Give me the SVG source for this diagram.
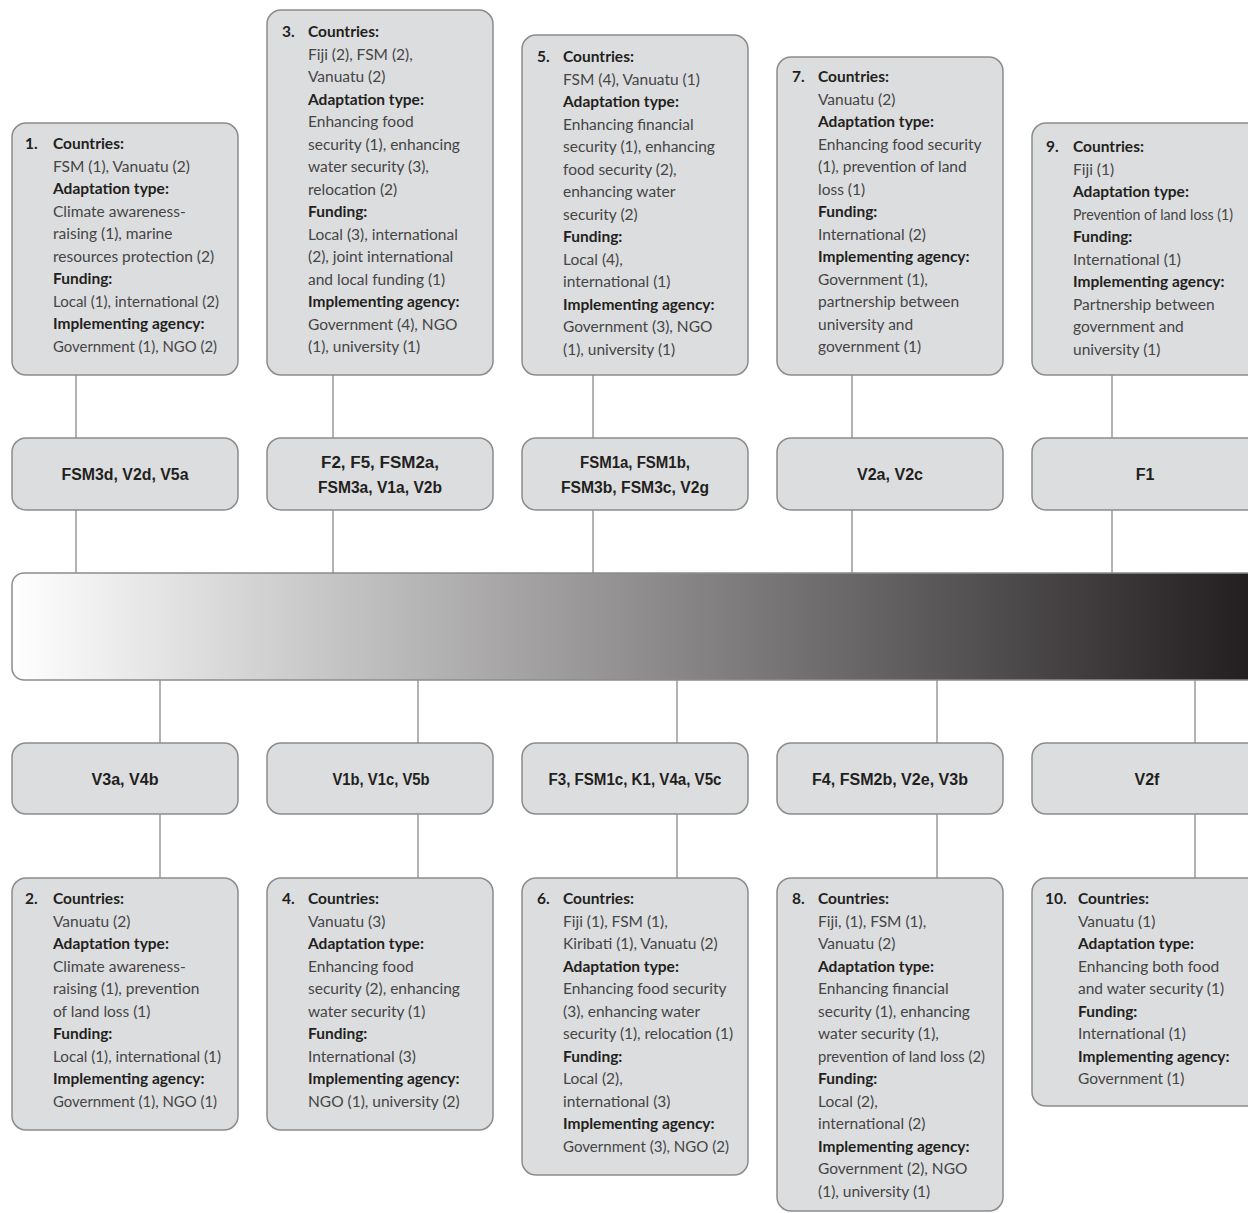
<svg xmlns="http://www.w3.org/2000/svg" width="1248" height="1213" viewBox="0 0 1248 1213">
<style>
.box{fill:#dcdddf;stroke:#8c8c8c;stroke-width:1.5}
.t{font-family:Lato,"Liberation Sans",sans-serif;font-size:15.5px;fill:#454545}
.b{font-weight:bold;fill:#231f20}
.n{font-family:Lato,"Liberation Sans",sans-serif;font-size:15.5px;font-weight:bold;fill:#231f20}
.lab{font-family:"Liberation Sans","DejaVu Sans",sans-serif;font-size:16px;font-weight:bold;fill:#231f20;text-anchor:middle}
.ln{stroke:#9a9a9a;stroke-width:1.5;fill:none}
</style>
<defs>
<linearGradient id="grad" gradientUnits="userSpaceOnUse" x1="12" y1="0" x2="1248" y2="0">
<stop offset="0" stop-color="#ffffff"/>
<stop offset="1" stop-color="#231f20"/>
</linearGradient>
</defs>
<rect width="1248" height="1213" fill="#ffffff"/>
<g id="connectors">
<path class="ln" d="M76 375V438M76 510V573M333 375V438M333 510V573M593 375V438M593 510V573M852 375V438M852 510V573M1112 375V438M1112 510V573"/>
<path class="ln" d="M160 680V743M160 814V878M418 680V743M418 814V878M677 680V743M677 814V878M937 680V743M937 814V878M1195 680V743M1195 814V878"/>
</g>
<g id="scale"><rect x="12" y="573" width="1260" height="107" rx="12" fill="url(#grad)" stroke="#8c8c8c" stroke-width="1.5"/></g>
<g id="box1"><rect class="box" x="12" y="123" width="226" height="252" rx="14"/>
<text class="n" x="25" y="149">1.</text>
<text class="t" x="53" y="149"><tspan class="b">Countries:</tspan><tspan x="53" dy="22.5">FSM (1), Vanuatu (2)</tspan><tspan x="53" dy="22.5" class="b">Adaptation type:</tspan><tspan x="53" dy="22.5">Climate awareness-</tspan><tspan x="53" dy="22.5">raising (1), marine</tspan><tspan x="53" dy="22.5">resources protection (2)</tspan><tspan x="53" dy="22.5" class="b">Funding:</tspan><tspan x="53" dy="22.5" textLength="166" lengthAdjust="spacingAndGlyphs">Local (1), international (2)</tspan><tspan x="53" dy="22.5" class="b">Implementing agency:</tspan><tspan x="53" dy="22.5" textLength="164" lengthAdjust="spacingAndGlyphs">Government (1), NGO (2)</tspan></text></g>
<g id="box3"><rect class="box" x="267" y="10" width="226" height="365" rx="14"/>
<text class="n" x="282" y="37">3.</text>
<text class="t" x="308" y="37"><tspan class="b">Countries:</tspan><tspan x="308" dy="22.5">Fiji (2), FSM (2),</tspan><tspan x="308" dy="22.5">Vanuatu (2)</tspan><tspan x="308" dy="22.5" class="b">Adaptation type:</tspan><tspan x="308" dy="22.5">Enhancing food</tspan><tspan x="308" dy="22.5">security (1), enhancing</tspan><tspan x="308" dy="22.5">water security (3),</tspan><tspan x="308" dy="22.5">relocation (2)</tspan><tspan x="308" dy="22.5" class="b">Funding:</tspan><tspan x="308" dy="22.5">Local (3), international</tspan><tspan x="308" dy="22.5">(2), joint international</tspan><tspan x="308" dy="22.5">and local funding (1)</tspan><tspan x="308" dy="22.5" class="b">Implementing agency:</tspan><tspan x="308" dy="22.5">Government (4), NGO</tspan><tspan x="308" dy="22.5">(1), university (1)</tspan></text></g>
<g id="box5"><rect class="box" x="522" y="35" width="226" height="340" rx="14"/>
<text class="n" x="537" y="62">5.</text>
<text class="t" x="563" y="62"><tspan class="b">Countries:</tspan><tspan x="563" dy="22.5">FSM (4), Vanuatu (1)</tspan><tspan x="563" dy="22.5" class="b">Adaptation type:</tspan><tspan x="563" dy="22.5">Enhancing financial</tspan><tspan x="563" dy="22.5">security (1), enhancing</tspan><tspan x="563" dy="22.5">food security (2),</tspan><tspan x="563" dy="22.5">enhancing water</tspan><tspan x="563" dy="22.5">security (2)</tspan><tspan x="563" dy="22.5" class="b">Funding:</tspan><tspan x="563" dy="22.5">Local (4),</tspan><tspan x="563" dy="22.5">international (1)</tspan><tspan x="563" dy="22.5" class="b">Implementing agency:</tspan><tspan x="563" dy="22.5">Government (3), NGO</tspan><tspan x="563" dy="22.5">(1), university (1)</tspan></text></g>
<g id="box7"><rect class="box" x="777" y="57" width="226" height="318" rx="14"/>
<text class="n" x="792" y="82">7.</text>
<text class="t" x="818" y="82"><tspan class="b">Countries:</tspan><tspan x="818" dy="22.5">Vanuatu (2)</tspan><tspan x="818" dy="22.5" class="b">Adaptation type:</tspan><tspan x="818" dy="22.5">Enhancing food security</tspan><tspan x="818" dy="22.5">(1), prevention of land</tspan><tspan x="818" dy="22.5">loss (1)</tspan><tspan x="818" dy="22.5" class="b">Funding:</tspan><tspan x="818" dy="22.5">International (2)</tspan><tspan x="818" dy="22.5" class="b">Implementing agency:</tspan><tspan x="818" dy="22.5">Government (1),</tspan><tspan x="818" dy="22.5">partnership between</tspan><tspan x="818" dy="22.5">university and</tspan><tspan x="818" dy="22.5">government (1)</tspan></text></g>
<g id="box9"><rect class="box" x="1032" y="123" width="240" height="252" rx="14"/>
<text class="n" x="1046" y="152">9.</text>
<text class="t" x="1073" y="152"><tspan class="b">Countries:</tspan><tspan x="1073" dy="22.5">Fiji (1)</tspan><tspan x="1073" dy="22.5" class="b">Adaptation type:</tspan><tspan x="1073" dy="22.5" textLength="160" lengthAdjust="spacingAndGlyphs">Prevention of land loss (1)</tspan><tspan x="1073" dy="22.5" class="b">Funding:</tspan><tspan x="1073" dy="22.5">International (1)</tspan><tspan x="1073" dy="22.5" class="b">Implementing agency:</tspan><tspan x="1073" dy="22.5">Partnership between</tspan><tspan x="1073" dy="22.5">government and</tspan><tspan x="1073" dy="22.5">university (1)</tspan></text></g>
<g id="lab-top1"><rect class="box" x="12" y="438" width="226" height="72" rx="14"/><text class="lab" x="125" y="480" textLength="127" lengthAdjust="spacingAndGlyphs">FSM3d, V2d, V5a</text></g>
<g id="lab-top2"><rect class="box" x="267" y="438" width="226" height="72" rx="14"/><text class="lab" x="380" y="468" textLength="118" lengthAdjust="spacingAndGlyphs">F2, F5, FSM2a,</text><text class="lab" x="380" y="493" textLength="124" lengthAdjust="spacingAndGlyphs">FSM3a, V1a, V2b</text></g>
<g id="lab-top3"><rect class="box" x="522" y="438" width="226" height="72" rx="14"/><text class="lab" x="635" y="468" textLength="110" lengthAdjust="spacingAndGlyphs">FSM1a, FSM1b,</text><text class="lab" x="635" y="493" textLength="148" lengthAdjust="spacingAndGlyphs">FSM3b, FSM3c, V2g</text></g>
<g id="lab-top4"><rect class="box" x="777" y="438" width="226" height="72" rx="14"/><text class="lab" x="890" y="480" textLength="66" lengthAdjust="spacingAndGlyphs">V2a, V2c</text></g>
<g id="lab-top5"><rect class="box" x="1032" y="438" width="240" height="72" rx="14"/><text class="lab" x="1145" y="480">F1</text></g>
<g id="lab-bot1"><rect class="box" x="12" y="743" width="226" height="71" rx="14"/><text class="lab" x="125" y="785" textLength="67" lengthAdjust="spacingAndGlyphs">V3a, V4b</text></g>
<g id="lab-bot2"><rect class="box" x="267" y="743" width="226" height="71" rx="14"/><text class="lab" x="381" y="785" textLength="97" lengthAdjust="spacingAndGlyphs">V1b, V1c, V5b</text></g>
<g id="lab-bot3"><rect class="box" x="522" y="743" width="226" height="71" rx="14"/><text class="lab" x="635" y="785" textLength="173" lengthAdjust="spacingAndGlyphs">F3, FSM1c, K1, V4a, V5c</text></g>
<g id="lab-bot4"><rect class="box" x="777" y="743" width="226" height="71" rx="14"/><text class="lab" x="890" y="785" textLength="156" lengthAdjust="spacingAndGlyphs">F4, FSM2b, V2e, V3b</text></g>
<g id="lab-bot5"><rect class="box" x="1032" y="743" width="240" height="71" rx="14"/><text class="lab" x="1147" y="785">V2f</text></g>
<g id="box2"><rect class="box" x="12" y="878" width="226" height="252" rx="14"/>
<text class="n" x="25" y="904">2.</text>
<text class="t" x="53" y="904"><tspan class="b">Countries:</tspan><tspan x="53" dy="22.5">Vanuatu (2)</tspan><tspan x="53" dy="22.5" class="b">Adaptation type:</tspan><tspan x="53" dy="22.5">Climate awareness-</tspan><tspan x="53" dy="22.5">raising (1), prevention</tspan><tspan x="53" dy="22.5">of land loss (1)</tspan><tspan x="53" dy="22.5" class="b">Funding:</tspan><tspan x="53" dy="22.5" textLength="168" lengthAdjust="spacingAndGlyphs">Local (1), international (1)</tspan><tspan x="53" dy="22.5" class="b">Implementing agency:</tspan><tspan x="53" dy="22.5" textLength="164" lengthAdjust="spacingAndGlyphs">Government (1), NGO (1)</tspan></text></g>
<g id="box4"><rect class="box" x="267" y="878" width="226" height="252" rx="14"/>
<text class="n" x="282" y="904">4.</text>
<text class="t" x="308" y="904"><tspan class="b">Countries:</tspan><tspan x="308" dy="22.5">Vanuatu (3)</tspan><tspan x="308" dy="22.5" class="b">Adaptation type:</tspan><tspan x="308" dy="22.5">Enhancing food</tspan><tspan x="308" dy="22.5">security (2), enhancing</tspan><tspan x="308" dy="22.5">water security (1)</tspan><tspan x="308" dy="22.5" class="b">Funding:</tspan><tspan x="308" dy="22.5">International (3)</tspan><tspan x="308" dy="22.5" class="b">Implementing agency:</tspan><tspan x="308" dy="22.5">NGO (1), university (2)</tspan></text></g>
<g id="box6"><rect class="box" x="522" y="878" width="226" height="297" rx="14"/>
<text class="n" x="537" y="904">6.</text>
<text class="t" x="563" y="904"><tspan class="b">Countries:</tspan><tspan x="563" dy="22.5">Fiji (1), FSM (1),</tspan><tspan x="563" dy="22.5">Kiribati (1), Vanuatu (2)</tspan><tspan x="563" dy="22.5" class="b">Adaptation type:</tspan><tspan x="563" dy="22.5">Enhancing food security</tspan><tspan x="563" dy="22.5">(3), enhancing water</tspan><tspan x="563" dy="22.5" textLength="170" lengthAdjust="spacingAndGlyphs">security (1), relocation (1)</tspan><tspan x="563" dy="22.5" class="b">Funding:</tspan><tspan x="563" dy="22.5">Local (2),</tspan><tspan x="563" dy="22.5">international (3)</tspan><tspan x="563" dy="22.5" class="b">Implementing agency:</tspan><tspan x="563" dy="22.5" textLength="166" lengthAdjust="spacingAndGlyphs">Government (3), NGO (2)</tspan></text></g>
<g id="box8"><rect class="box" x="777" y="878" width="226" height="333" rx="14"/>
<text class="n" x="792" y="904">8.</text>
<text class="t" x="818" y="904"><tspan class="b">Countries:</tspan><tspan x="818" dy="22.5">Fiji, (1), FSM (1),</tspan><tspan x="818" dy="22.5">Vanuatu (2)</tspan><tspan x="818" dy="22.5" class="b">Adaptation type:</tspan><tspan x="818" dy="22.5">Enhancing financial</tspan><tspan x="818" dy="22.5">security (1), enhancing</tspan><tspan x="818" dy="22.5">water security (1),</tspan><tspan x="818" dy="22.5" textLength="167" lengthAdjust="spacingAndGlyphs">prevention of land loss (2)</tspan><tspan x="818" dy="22.5" class="b">Funding:</tspan><tspan x="818" dy="22.5">Local (2),</tspan><tspan x="818" dy="22.5">international (2)</tspan><tspan x="818" dy="22.5" class="b">Implementing agency:</tspan><tspan x="818" dy="22.5">Government (2), NGO</tspan><tspan x="818" dy="22.5">(1), university (1)</tspan></text></g>
<g id="box10"><rect class="box" x="1032" y="878" width="240" height="228" rx="14"/>
<text class="n" x="1045" y="904">10.</text>
<text class="t" x="1078" y="904"><tspan class="b">Countries:</tspan><tspan x="1078" dy="22.5">Vanuatu (1)</tspan><tspan x="1078" dy="22.5" class="b">Adaptation type:</tspan><tspan x="1078" dy="22.5">Enhancing both food</tspan><tspan x="1078" dy="22.5">and water security (1)</tspan><tspan x="1078" dy="22.5" class="b">Funding:</tspan><tspan x="1078" dy="22.5">International (1)</tspan><tspan x="1078" dy="22.5" class="b">Implementing agency:</tspan><tspan x="1078" dy="22.5">Government (1)</tspan></text></g>
</svg>
